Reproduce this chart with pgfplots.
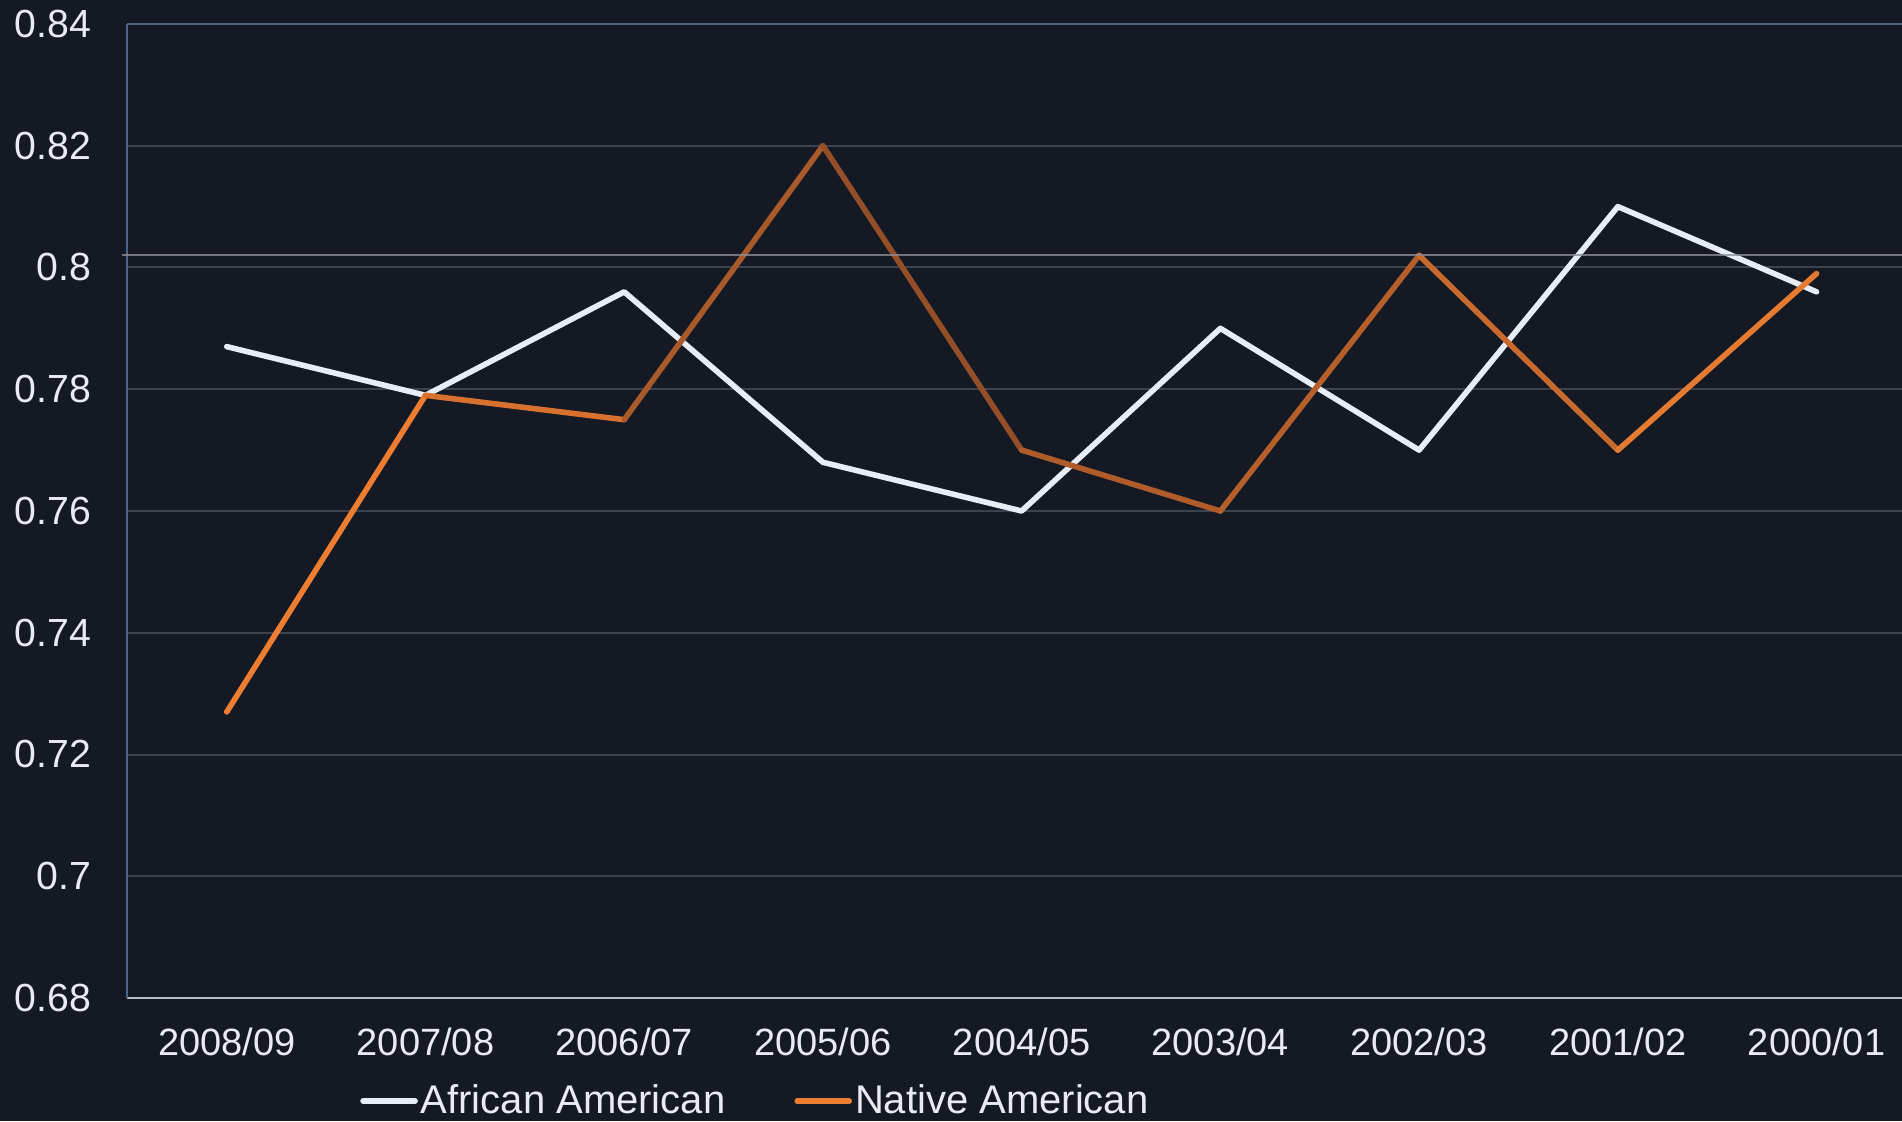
\documentclass[border=0pt]{standalone}
\usepackage{fontspec}
\setmainfont{Liberation Sans}
\usepackage{pgfplots}
\pgfplotsset{compat=1.18}

\definecolor{bg}{HTML}{141924}
\definecolor{txt}{HTML}{E8EBF2}
\definecolor{gridc}{HTML}{3C4250}
\definecolor{axblue}{HTML}{4A6585}
\definecolor{axgray}{HTML}{B8BCC4}
\definecolor{refc}{HTML}{8A8D94}
\definecolor{aa}{HTML}{E8ECF4}
\definecolor{na1}{HTML}{ED7D31}
\definecolor{na2}{HTML}{D8712D}
\definecolor{na3}{HTML}{A85A2A}
\definecolor{na4}{HTML}{944F28}
\definecolor{na5}{HTML}{B05C2A}
\definecolor{na6}{HTML}{B5602B}
\definecolor{na7}{HTML}{C8692D}
\definecolor{na8}{HTML}{E57A31}

\begin{document}
\begin{tikzpicture}
\fill[bg] (0,0) rectangle (951pt,560.5pt);
\begin{axis}[
  at={(63.7pt,61.5pt)}, anchor=south west,
  scale only axis,
  width=887.3pt, height=487pt,
  xmin=-0.5, xmax=8.43,
  ymin=0.68, ymax=0.84,
  clip=false,
  xtick={0,1,2,3,4,5,6,7,8},
  xticklabels={2008/09,2007/08,2006/07,2005/06,2004/05,2003/04,2002/03,2001/02,2000/01},
  ytick={0.68,0.70,0.72,0.74,0.76,0.78,0.80,0.82,0.84},
  yticklabels={0.68,0.7,0.72,0.74,0.76,0.78,0.8,0.82,0.84},
  extra y ticks={0.84},
  extra y tick labels={},
  extra y tick style={grid style={axblue, line width=1pt}},
  major tick length=0pt,
  ymajorgrids,
  grid style={gridc, line width=1pt},
  axis x line*=bottom,
  axis y line*=left,
  x axis line style={-, axgray, line width=1pt},
  y axis line style={-, axblue, line width=1pt},
  ticklabel style={font=\fontsize{19}{22}\selectfont, text=txt, inner sep=0pt},
  yticklabel style={xshift=-18pt, font=\fontsize{19.6}{22}\selectfont},
  xticklabel style={yshift=-15pt},
  legend style={at={(0.131,-0.1057)}, anchor=west, draw=none, fill=none,
    inner sep=0pt, font=\fontsize{20}{24}\selectfont, text=txt,
    nodes={inner sep=1.5pt},
    /tikz/every even column/.append style={column sep=33pt}},
  legend columns=2,
  legend image code/.code={\draw[#1] (0pt,0pt) -- (26pt,0pt);},
  every axis plot/.append style={line width=2.8pt, line cap=round, line join=round},
]
\addplot[aa] coordinates {
  (0,0.787) (1,0.779) (2,0.796) (3,0.768) (4,0.760)
  (5,0.790) (6,0.770) (7,0.810) (8,0.796)
};
\addlegendentry{African American}
\addplot[na1] coordinates {(0,0.727) (1,0.779)};
\addlegendentry{Native American}
\addplot[na2, forget plot] coordinates {(1,0.779) (2,0.775)};
\addplot[na3, forget plot] coordinates {(2,0.775) (3,0.820)};
\addplot[na4, forget plot] coordinates {(3,0.820) (4,0.770)};
\addplot[na5, forget plot] coordinates {(4,0.770) (5,0.760)};
\addplot[na6, forget plot] coordinates {(5,0.760) (6,0.802)};
\addplot[na7, forget plot] coordinates {(6,0.802) (7,0.770)};
\addplot[na8, forget plot] coordinates {(7,0.770) (8,0.799)};
\addplot[refc, line width=1pt, line cap=butt, opacity=0.8, forget plot]
  coordinates {(-0.525,0.802) (8.43,0.802)};
\end{axis}
\pgfresetboundingbox
\useasboundingbox (0,0) rectangle (951pt,560.5pt);
\end{tikzpicture}
\end{document}
